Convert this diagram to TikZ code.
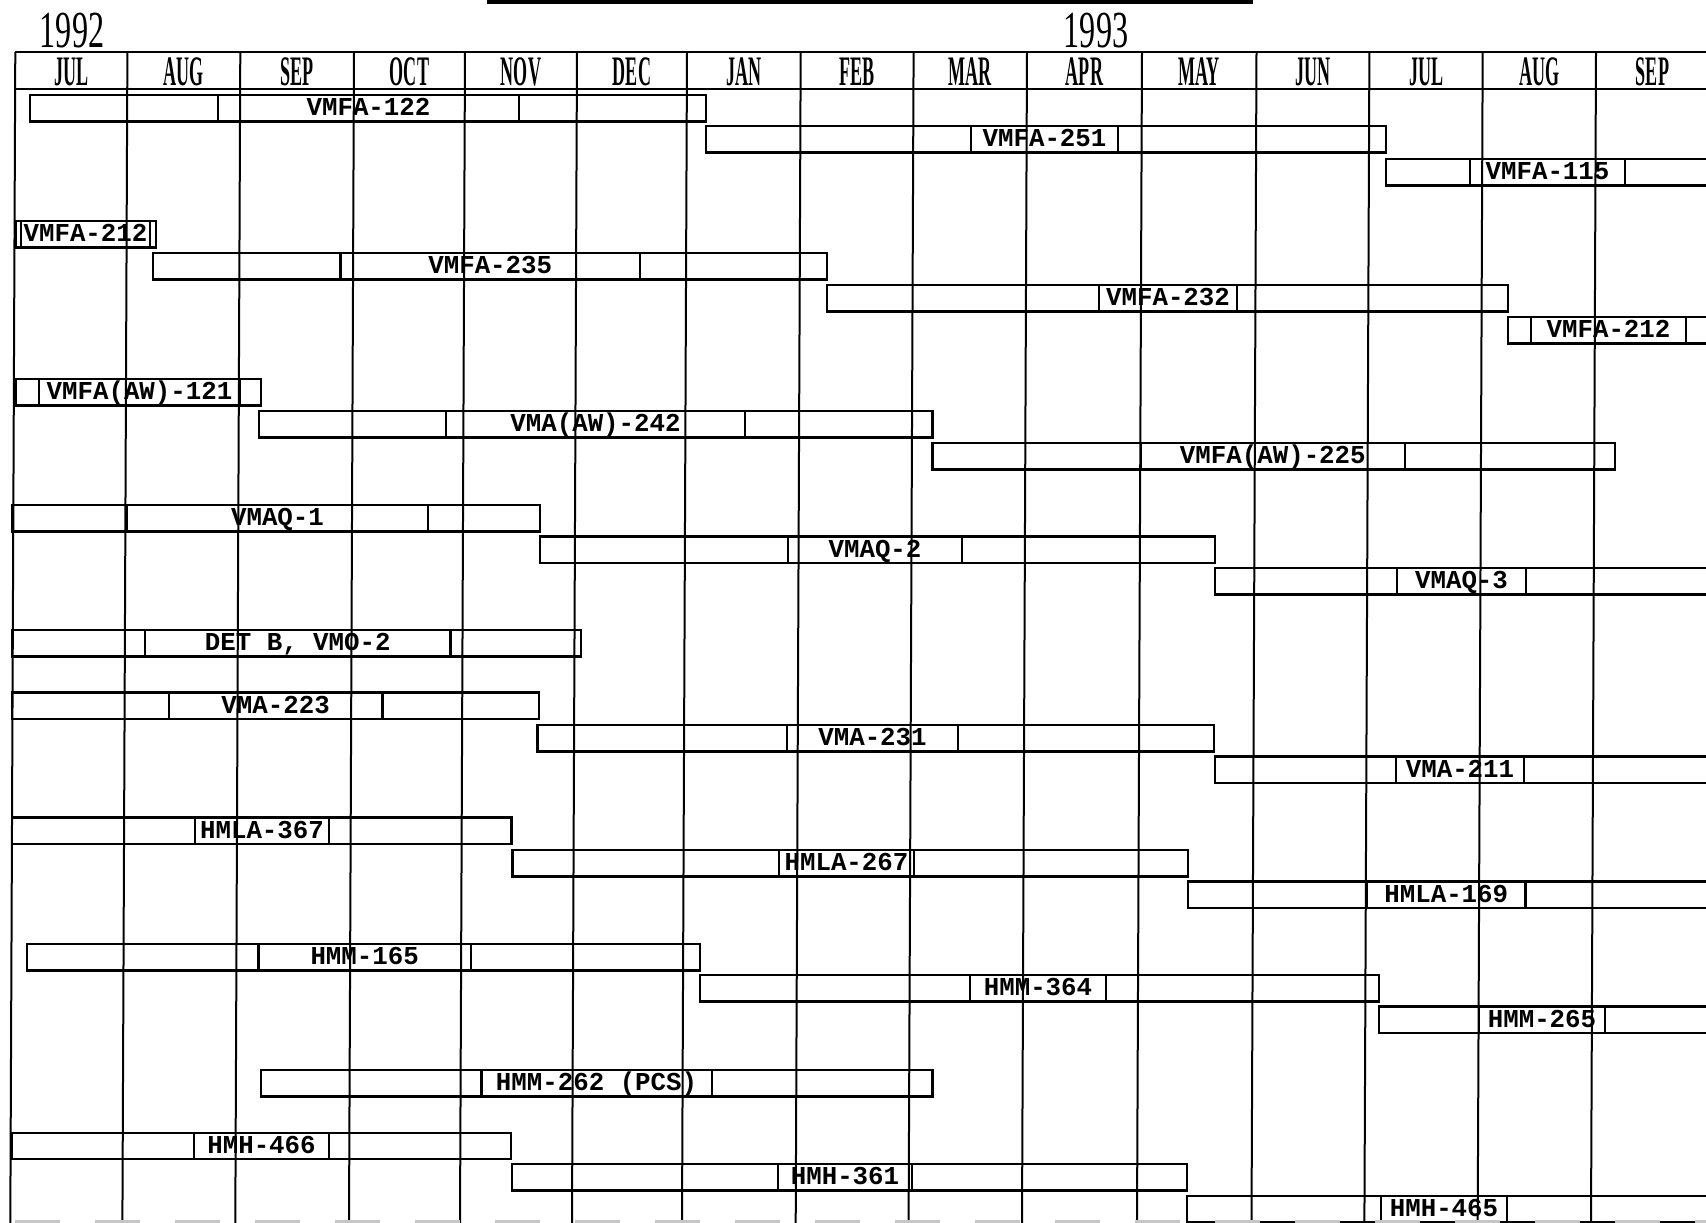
\documentclass[tikz,border=0pt]{standalone}
\usepackage{fontspec}
\setmainfont{Liberation Serif}
\newfontfamily\monthfont[FakeStretch=0.43]{Liberation Serif}
\newfontfamily\yearfont[FakeStretch=0.62]{Liberation Serif}
\newfontfamily\labelfont{Liberation Mono}
\tikzset{
  gridline/.style={line width=2pt},
  headline/.style={line width=2.4pt},
  barline/.style={line width=2.2pt},
  month/.style={font=\monthfont\bfseries\fontsize{42}{42}\selectfont, inner sep=0pt, anchor=base},
  yearlbl/.style={font=\yearfont\fontsize{52}{52}\selectfont, inner sep=0pt, anchor=base},
  barlabel/.style={font=\labelfont\bfseries\fontsize{25.8}{26}\selectfont, inner sep=0pt, anchor=base},
}
% #1 name, #2 top y, #3 left x, #4 divider 1, #5 divider 2, #6 right x, #7 label
\newcommand\ganttbar[7]{%
  \draw[barline] (#3,#2) rectangle (#6,{#2+26.5});
  \draw[barline] (#4,#2) -- (#4,{#2+26.5}) (#5,#2) -- (#5,{#2+26.5});
  \node[barlabel] (#1) at ({(#4+#5)/2},{#2+20.6}) {#7};
}
\begin{document}
\begin{tikzpicture}[x=1pt,y=-1pt]
\useasboundingbox (0,0) rectangle (1706,1223);
\clip (0,0) rectangle (1706,1223);
\fill[white] (0,0) rectangle (1706,1223);
% top black bar
\fill[black] (487,0) rectangle (1253,4.5);
% years
\node[yearlbl] (y92) at (72,48) {1992};
\node[yearlbl] (y93) at (1096,48) {1993};
% header lines
\draw[headline] (15.3,52) -- (1706,52);
\draw[headline] (15.3,89) -- (1706,89);
% month labels
\foreach \xa/\xb/\m [count=\i] in {15.3/127.4/JUL,127.4/240.3/AUG,240.3/354/SEP,354/465/OCT,465/577/NOV,577/687/DEC,687/800.7/JAN,800.7/913.6/FEB,913.6/1027/MAR,1027/1142/APR,1142/1256.5/MAY,1256.5/1369.4/JUN,1369.4/1482.7/JUL,1482.7/1596/AUG,1596/1709/SEP}
  \node[month] (m\i) at ({(\xa+\xb)/2},85) {\m};
% bars
\ganttbar{b1}{95}{30}{218}{519}{706}{VMFA-122}
\ganttbar{b2}{126}{706}{971}{1118}{1386}{VMFA-251}
\ganttbar{b3}{159}{1386}{1470}{1625}{1730}{VMFA-115}
\ganttbar{b4}{221}{16}{21}{150}{156}{VMFA-212}
\ganttbar{b5}{253}{153}{340.5}{640}{827}{VMFA-235}
\ganttbar{b6}{285}{827}{1099}{1237}{1508}{VMFA-232}
\ganttbar{b7}{317}{1508}{1531}{1686}{1730}{VMFA-212}
\ganttbar{b8}{379}{16}{39}{240}{261}{VMFA(AW)-121}
\ganttbar{b9}{411}{259}{446}{745}{932.5}{VMA(AW)-242}
\ganttbar{b10}{443}{932.5}{1141}{1404.6}{1615}{VMFA(AW)-225}
\ganttbar{b11}{505}{12}{127}{428}{540}{VMAQ-1}
\ganttbar{b12}{536.5}{540}{788}{962}{1215}{VMAQ-2}
\ganttbar{b13}{568}{1215}{1397}{1526}{1730}{VMAQ-3}
\ganttbar{b14}{630}{12}{145}{450.5}{581}{DET B, VMO-2}
\ganttbar{b15}{692.5}{12}{168.7}{382.5}{538.6}{VMA-223}
\ganttbar{b16}{725}{537.5}{787}{958}{1214}{VMA-231}
\ganttbar{b17}{756.5}{1215}{1396}{1524}{1730}{VMA-211}
\ganttbar{b18}{817.5}{12}{195}{329}{511.5}{HMLA-367}
\ganttbar{b19}{850}{512.5}{779}{914}{1188}{HMLA-267}
\ganttbar{b20}{881.5}{1188}{1367}{1525.5}{1730}{HMLA-169}
\ganttbar{b21}{944}{27}{258.4}{471}{700}{HMM-165}
\ganttbar{b22}{975}{700}{970}{1106}{1378.6}{HMM-364}
\ganttbar{b23}{1006.5}{1378.6}{1479}{1605}{1730}{HMM-265}
\ganttbar{b24}{1070}{261}{481.5}{711.6}{932.5}{HMM-262 (PCS)}
\ganttbar{b25}{1132.7}{12}{194}{329}{511}{HMH-466}
\ganttbar{b26}{1164}{512}{778}{912}{1187}{HMH-361}
\ganttbar{b27}{1195.7}{1187}{1381}{1507}{1730}{HMH-465}
% grid lines (slightly skewed like the scan)
\foreach \x in {15.3,127.4,240.3,354,465,577,687,800.7,913.6,1027,1142,1256.5,1369.4,1482.7,1596}
  \draw[gridline] (\x,52) -- (\x-5,1223);
% faint bottom border
\draw[gray!45, line width=2.5pt, dash pattern=on 45pt off 35pt] (15,1221.5) -- (1706,1221.5);
\end{tikzpicture}
\end{document}
